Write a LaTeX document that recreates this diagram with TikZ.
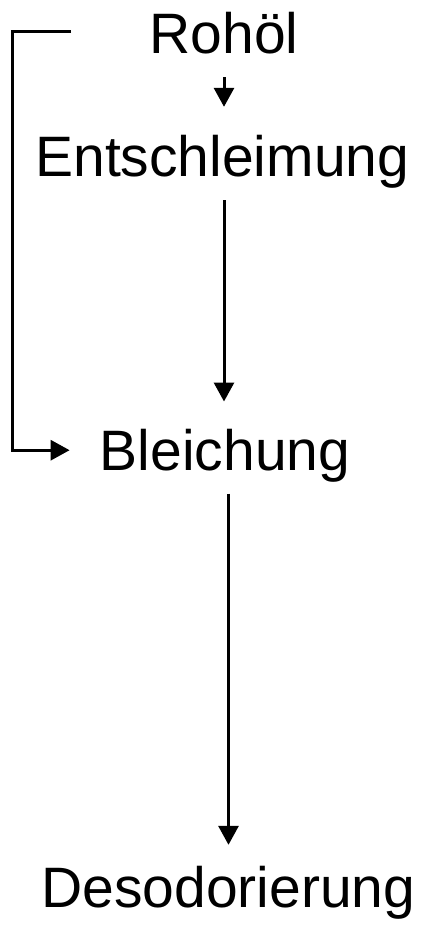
\documentclass[tikz,border=0pt]{standalone}
\usepackage{fontspec}
\setmainfont{Liberation Sans}
\usetikzlibrary{arrows.meta}

\tikzset{
  stage/.style={anchor=base, inner sep=0pt, text height=41pt, text depth=0pt,
                font=\fontsize{57}{68}\selectfont},
  flow/.style={line width=3pt, -{Triangle[width=20pt,length=19pt]}},
}

\begin{document}
\begin{tikzpicture}[x=1pt,y=1pt]
  \useasboundingbox (0,0) rectangle (421,-927);

  % process stages
  \node[stage] (r) at (224,-53.3)  {Rohöl};
  \node[stage] (e) at (222.3,-176.7) {Entschleimung};
  \node[stage] (b) at (225,-470.7) {Bleichung};
  \node[stage] (d) at (228.5,-907.3) {Desodorierung};

  % main sequence
  \draw[flow, shorten <=23.7pt, shorten >=28.7pt] (r.south) -- (r.south |- e.north);
  \draw[flow, shorten <=23.3pt, shorten >=28pt] (r.south |- e.south) -- (r.south |- b.north);
  \draw[flow, shorten <=22.6pt, shorten >=21.3pt] (d.north |- b.south) -- (d.north);

  % bypass from crude oil directly to bleaching
  \coordinate (tap) at (71,-31.7);
  \draw[flow, shorten >=30pt] (tap) -- (12.5,-31.7) |- (b.west);
\end{tikzpicture}
\end{document}
